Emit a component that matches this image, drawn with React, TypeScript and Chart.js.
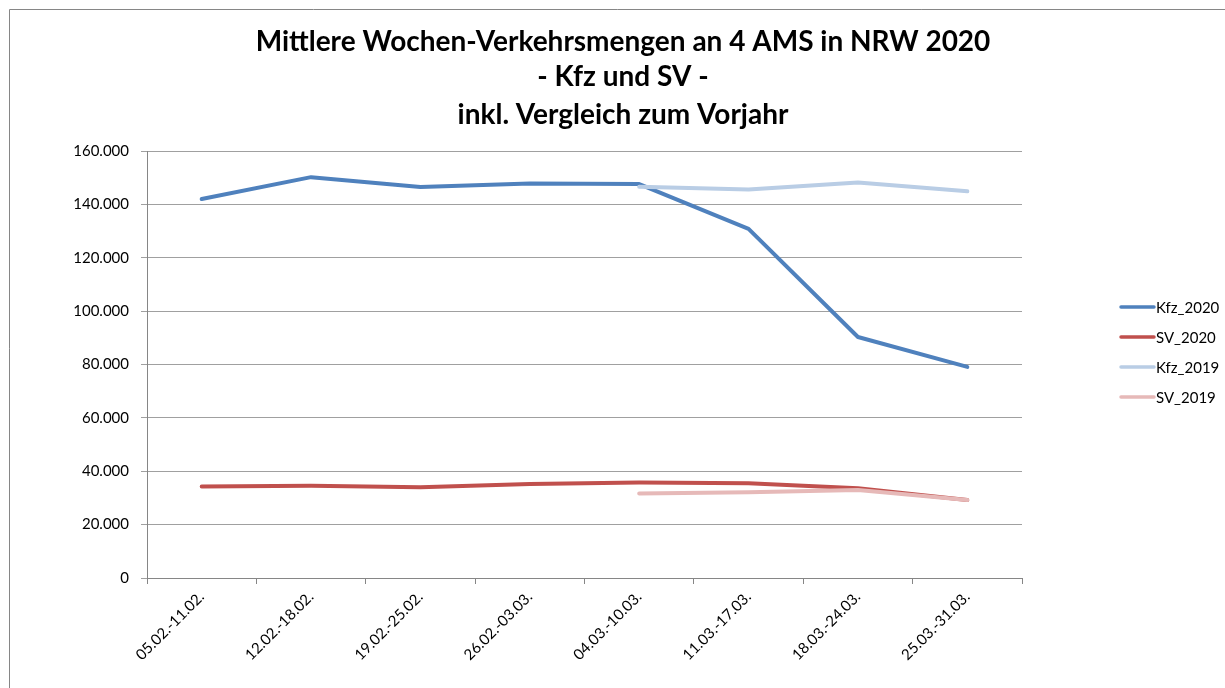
import React, { useEffect, useRef } from "react";
import { Chart, registerables } from "chart.js";

Chart.register(...registerables);

const categories = [
  "05.02.-11.02.",
  "12.02.-18.02.",
  "19.02.-25.02.",
  "26.02.-03.03.",
  "04.03.-10.03.",
  "11.03.-17.03.",
  "18.03.-24.03.",
  "25.03.-31.03.",
];
const kfz2020 = [142000, 150200, 146500, 147800, 147600, 130800, 90300, 79100];
const sv2020 = [34300, 34600, 34000, 35200, 35800, 35500, 33600, 29200];
const kfz2019 = [null, null, null, null, 146600, 145600, 148200, 144900];
const sv2019 = [null, null, null, null, 31700, 32100, 33000, 29200];
const titleLines = [
  "Mittlere Wochen-Verkehrsmengen an 4 AMS in NRW 2020",
  "- Kfz und SV -",
  "inkl. Vergleich zum Vorjahr",
];

const FONT = "Lato, 'Open Sans', sans-serif";

const fmt = (v: number) => {
  if (v === 0) return "0";
  const s = Math.round(v).toString();
  return s.replace(/\B(?=(\d{3})+(?!\d))/g, ".");
};

const decorPlugin = {
  id: "decor",
  beforeDraw(chart: any) {
    const ctx = chart.ctx;
    ctx.save();
    ctx.fillStyle = "#ffffff";
    ctx.fillRect(0, 0, chart.width, chart.height);
    ctx.strokeStyle = "#868686";
    ctx.lineWidth = 1;
    ctx.beginPath();
    ctx.moveTo(9.5, chart.height);
    ctx.lineTo(9.5, 9.5);
    ctx.lineTo(chart.width, 9.5);
    ctx.stroke();
    ctx.restore();
  },
  afterDraw(chart: any) {
    const ctx = chart.ctx;
    ctx.save();
    ctx.fillStyle = "#000000";
    ctx.textAlign = "center";
    ctx.textBaseline = "middle";
    ctx.font = `bold 28px ${FONT}`;
    const ys = [42, 77, 115];
    titleLines.forEach((t, i) => ctx.fillText(t, 623, ys[i]));

    // legend
    ctx.font = `15px ${FONT}`;
    ctx.textAlign = "left";
    const legendY = [307, 337, 367, 397];
    chart.data.datasets.forEach((ds: any, i: number) => {
      const y = legendY[i];
      ctx.strokeStyle = ds.borderColor;
      ctx.lineWidth = 3.5;
      ctx.lineCap = "round";
      ctx.beginPath();
      ctx.moveTo(1121, y);
      ctx.lineTo(1154, y);
      ctx.stroke();
      ctx.fillStyle = "#000000";
      ctx.fillText(ds.label, 1156, y + 1);
    });
    ctx.restore();
  },
};

export default function App() {
  const ref = useRef<HTMLCanvasElement | null>(null);
  useEffect(() => {
    document.body.style.margin = "0";
    document.body.style.overflow = "hidden";
    if (!ref.current) return;
    const chart = new Chart(ref.current, {
      type: "line",
      data: {
        labels: categories,
        datasets: [
          { label: "Kfz_2020", data: kfz2020, borderColor: "#4F81BD", order: 2 },
          { label: "SV_2020", data: sv2020, borderColor: "#C0504D", order: 2 },
          { label: "Kfz_2019", data: kfz2019, borderColor: "#B9CDE5", order: 1 },
          { label: "SV_2019", data: sv2019, borderColor: "#E6B9B8", order: 1 },
        ].map((d) => ({
          ...d,
          borderWidth: 4,
          pointRadius: 0,
          pointHoverRadius: 0,
          tension: 0,
          fill: false,
          spanGaps: false,
          borderCapStyle: "round" as const,
          borderJoinStyle: "round" as const,
        })),
      },
      options: {
        animation: false,
        responsive: false,
        layout: { padding: { left: 0, top: 151, right: 203, bottom: 0 } },
        plugins: { legend: { display: false }, title: { display: false }, tooltip: { enabled: false } },
        scales: {
          x: {
            offset: true,
            grid: {
              offset: true,
              drawOnChartArea: false,
              drawTicks: true,
              tickLength: 6,
              color: "#868686",
            },
            border: { color: "#868686", width: 1 },
            ticks: {
              minRotation: 45,
              maxRotation: 45,
              autoSkip: false,
              color: "#000000",
              font: { family: FONT, size: 15 },
              padding: 4,
            },
            afterFit(scale: any) {
              scale.height = 110;
            },
          },
          y: {
            min: 0,
            max: 160000,
            grid: { color: "#A0A0A0", tickLength: 6, lineWidth: 1 },
            border: { color: "#868686", width: 1 },
            ticks: {
              stepSize: 20000,
              color: "#000000",
              font: { family: FONT, size: 15 },
              padding: 12,
              callback: (v: any) => fmt(Number(v)),
            },
            afterFit(scale: any) {
              scale.width = 147;
            },
          },
        },
      },
      plugins: [decorPlugin],
    });
    return () => chart.destroy();
  }, []);
  return (
    <canvas
      ref={ref}
      width={1225}
      height={688}
      style={{ display: "block", width: 1225, height: 688 }}
    />
  );
}
